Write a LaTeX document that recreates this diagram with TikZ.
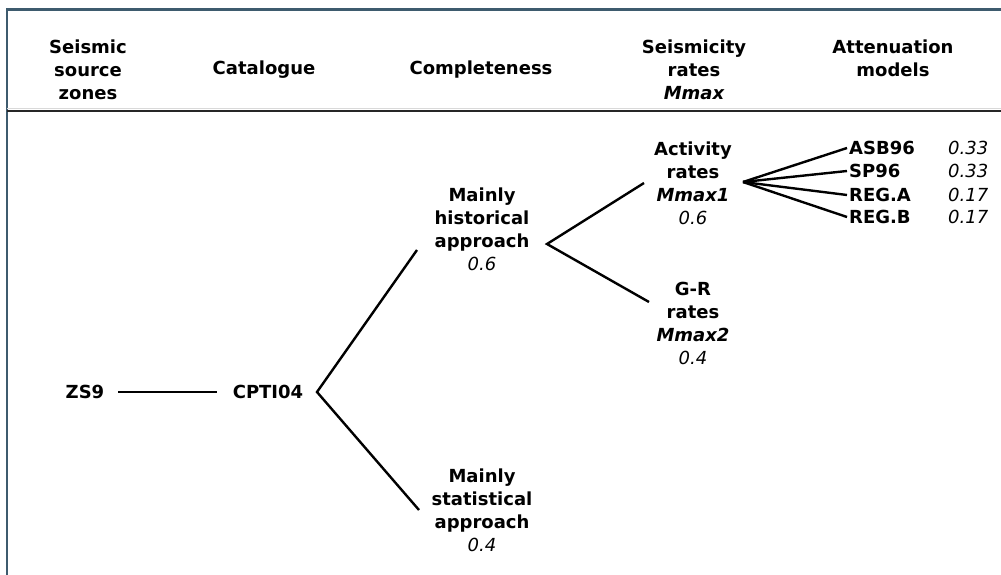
\documentclass[tikz,border=0pt]{standalone}
\usepackage{fontspec}
\setmainfont{DejaVu Sans}
\usepackage{xcolor}
\definecolor{framegrey}{HTML}{3E5B6E}
\begin{document}
\begin{tikzpicture}[x=1pt,y=-1pt,
  lbl/.style={font=\fontsize{18}{23}\selectfont\bfseries,align=center,inner sep=3pt},
  leaf/.style={font=\fontsize{18}{23}\selectfont\bfseries,anchor=west,inner sep=2pt},
  wgt/.style={font=\fontsize{18}{23}\selectfont\itshape,anchor=west,inner sep=2pt},
  link/.style={line width=2.4pt,black}]
  \useasboundingbox (0,0) rectangle (1001,575);
  % Frame
  \draw[framegrey,line width=2.4pt] (7,575) -- (7,9.5) -- (1001,9.5);
  \draw[black!15,line width=1pt] (7,109) -- (1001,109);
  \draw[black!85,line width=1.8pt] (7,111) -- (1001,111);
  % Headers
  \node[lbl] (hzones) at (88,70) {Seismic\\source\\zones};
  \node[lbl] (hcat) at (264,70) {Catalogue};
  \node[lbl] (hcompl) at (481,70) {Completeness};
  \node[lbl] (hrates) at (694,70) {Seismicity\\rates\\\itshape Mmax};
  \node[lbl] (hatten) at (893,58.5) {Attenuation\\models};
  % Logic tree nodes
  \node[lbl] (zs9) at (85,392) {ZS9};
  \node[lbl] (cpti) at (268,392) {CPTI04};
  \node[lbl] (hist) at (482,229) {Mainly\\historical\\approach\\\mdseries\itshape 0.6};
  \node[lbl] (stat) at (482,510) {Mainly\\statistical\\approach\\\mdseries\itshape 0.4};
  \node[lbl] (act) at (693,183) {Activity\\rates\\\itshape Mmax1\\\mdseries\itshape 0.6};
  \node[lbl] (gr) at (693,323) {G-R\\rates\\\itshape Mmax2\\\mdseries\itshape 0.4};
  \node[leaf] (asb) at (847,148) {ASB96};
  \node[leaf] (sp) at (847,171) {SP96};
  \node[leaf] (rega) at (847,195) {REG.A};
  \node[leaf] (regb) at (847,217) {REG.B};
  \node[wgt] (wasb) at (946,148) {0.33};
  \node[wgt] (wsp) at (946,171) {0.33};
  \node[wgt] (wrega) at (946,195) {0.17};
  \node[wgt] (wregb) at (946,217) {0.17};
  % Branch points and line ends
  \coordinate (zsout) at (118,392);
  \coordinate (cptiin) at (217,392);
  \coordinate (v1) at (317,392);
  \coordinate (histin) at (417,250);
  \coordinate (statin) at (419,510);
  \coordinate (v2) at (547,244);
  \coordinate (actin) at (644,183);
  \coordinate (grin) at (649,302);
  \coordinate (v3) at (743,182);
  % Branches
  \draw[link] (zsout) -- (cptiin);
  \draw[link] (histin) -- (v1) -- (statin);
  \draw[link] (actin) -- (v2) -- (grin);
  \foreach \m in {asb,sp,rega,regb}
    \draw[link] (v3) -- (\m.west);
\end{tikzpicture}
\end{document}
